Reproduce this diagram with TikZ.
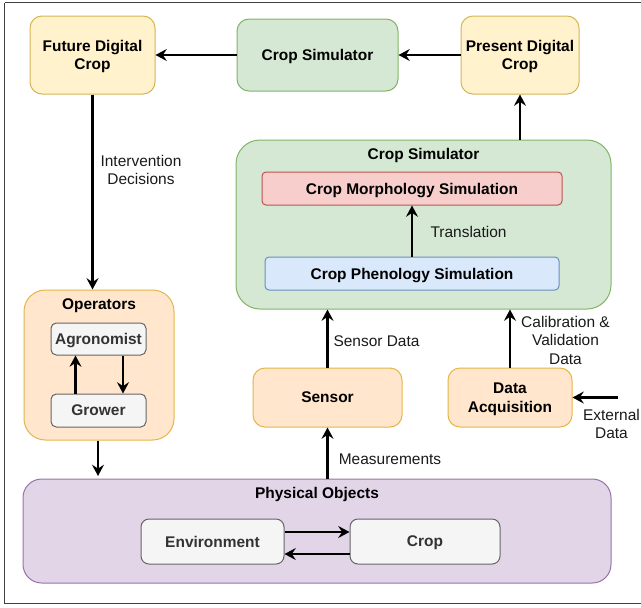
\documentclass[tikz,border=0pt]{standalone}
\usepackage{fontspec}
\setmainfont{Liberation Sans}
\usetikzlibrary{arrows.meta}

\definecolor{ylwfill}{HTML}{FFF2CC}
\definecolor{ylwline}{HTML}{D6B656}
\definecolor{grnfill}{HTML}{D5E8D4}
\definecolor{grnline}{HTML}{82B366}
\definecolor{redfill}{HTML}{F8CECC}
\definecolor{redline}{HTML}{B85450}
\definecolor{blufill}{HTML}{DAE8FC}
\definecolor{bluline}{HTML}{6C8EBF}
\definecolor{orgfill}{HTML}{FFE6CC}
\definecolor{orgline}{HTML}{E3B54A}
\definecolor{purfill}{HTML}{E1D5E7}
\definecolor{purline}{HTML}{9673A6}
\definecolor{gryfill}{HTML}{F5F5F5}
\definecolor{gryline}{HTML}{666666}
\definecolor{grytext}{HTML}{333333}
\definecolor{framecol}{HTML}{404040}
\definecolor{labeltext}{HTML}{1A1A1A}

\tikzset{
  every node/.style={font=\fontsize{11.6pt}{13.9pt}\selectfont, inner sep=0pt, align=center, text depth=0pt},
  sz/.style 2 args={minimum width=#1*0.75pt, minimum height=#2*0.75pt},
  box/.style={draw, line width=0.75pt, rounded corners=9pt, font=\fontsize{11.6pt}{13.9pt}\selectfont\bfseries},
  yellowbox/.style={box, fill=ylwfill, draw=ylwline},
  greenbox/.style={box, fill=grnfill, draw=grnline},
  orangebox/.style={box, fill=orgfill, draw=orgline},
  redbox/.style={box, fill=redfill, draw=redline, rounded corners=3pt},
  bluebox/.style={box, fill=blufill, draw=bluline, rounded corners=3pt},
  purplebox/.style={box, fill=purfill, draw=purline},
  graybox/.style={box, fill=gryfill, draw=gryline, text=grytext, rounded corners=4pt},
  title/.style={font=\fontsize{11.6pt}{13.9pt}\selectfont\bfseries},
  lbl/.style={text=labeltext},
  arr/.style={-{Stealth[length=8.5pt,width=9pt,inset=3pt]}, line width=1.65pt, black},
}

\begin{document}
\begin{tikzpicture}[x=0.75pt, y=-0.75pt]
\useasboundingbox (0,0) rectangle (641,607);

% outer frame (open on the right)
\draw[framecol, line width=1.4pt] (641,2.5) -- (4.5,2.5);
\draw[framecol, line width=1pt] (4.5,2.5) -- (4.5,603.5) -- (641,603.5);

% top row
\node[yellowbox, sz={125}{78}] (fdc) at (92.5,55) {Future Digital\\Crop};
\node[greenbox, sz={161}{72}] (csim) at (317.5,55) {Crop Simulator};
\node[yellowbox, sz={118}{78}] (pdc) at (520,55) {Present Digital\\Crop};

% simulator block
\node[greenbox, sz={375}{169}, rounded corners=18pt] (sim) at (423.5,224.5) {};
\node[title] (simtitle) at (423.5,154) {Crop Simulator};
\node[redbox, sz={300}{33}] (morph) at (412,188.5) {Crop Morphology Simulation};
\node[bluebox, sz={294}{33}] (phen) at (412,273.5) {Crop Phenology Simulation};

% operators block
\node[orangebox, sz={150}{150}, rounded corners=16pt] (ops) at (99,365) {};
\node[title] (opstitle) at (99,304) {Operators};
\node[graybox, sz={95}{32}] (agr) at (98.5,339) {Agronomist};
\node[graybox, sz={95}{33}] (grow) at (98.5,410.5) {Grower};

% sensing and data
\node[orangebox, sz={149}{59}] (sensor) at (327.5,397.5) {Sensor};
\node[orangebox, sz={124}{59}] (daq) at (510,397.5) {Data\\Acquisition};

% physical objects block
\node[purplebox, sz={588}{104}, rounded corners=14pt] (phys) at (317,531) {};
\node[title] (phystitle) at (317,493) {Physical Objects};
\node[graybox, sz={143}{45}, rounded corners=6pt] (env) at (212.5,541.5) {Environment};
\node[graybox, sz={150}{45}, rounded corners=6pt] (crop) at (425,541.5) {Crop};

% connectors
\draw[arr] (csim) -- (fdc);
\draw[arr] (pdc) -- (csim);
\draw[arr] (sim.north -| pdc.south) -- (pdc.south);
\draw[arr] (phen.north -| 412,0) -- (morph.south -| 412,0);
\draw[arr] (fdc.south) -- (ops.north -| fdc.south);
\draw[arr] (grow.north -| 75.5,0) -- (agr.south -| 75.5,0);
\draw[arr] (agr.south -| 123,0) -- (grow.north -| 123,0);
\coordinate (opsend) at (98,476);
\draw[arr] (ops.south -| opsend) -- (opsend);
\draw[arr] (phys.north -| sensor.south) -- (sensor.south);
\draw[arr] (sensor.north) -- (sensor.north |- sim.south);
\draw[arr] (daq.north) -- (daq.north |- sim.south);
\coordinate (extsrc) at (618,397.5);
\draw[arr] (extsrc) -- (daq.east);
\draw[arr] (env.east |- 0,532) -- (crop.west |- 0,532);
\draw[arr] (crop.west |- 0,554) -- (env.east |- 0,554);

% connector labels
\node[lbl] (lint) at (141,170) {Intervention\\Decisions};
\node[lbl] (ltrans) at (468.5,232) {Translation};
\node[lbl] (lsens) at (376.5,341) {Sensor Data};
\node[lbl] (lmeas) at (390,459) {Measurements};
\node[lbl] (lcal) at (565.5,340) {Calibration \&\\Validation\\Data};
\node[lbl] (lext) at (611.5,424) {External\\Data};
\end{tikzpicture}
\end{document}
